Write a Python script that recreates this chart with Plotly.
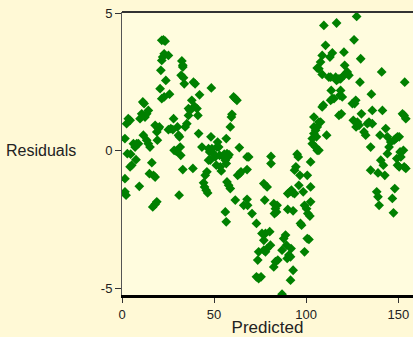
import plotly.graph_objects as go

predicted = [1.6, 1.6, 1.6, 2.2, 2.5, 3.4, 4.4, 2.9, 4.7, 5.3, 4.4, 6.2, 7.1, 8.0, 8.9, 7.6, 9.4, 9.8, 10.7, 11.3,
             12.0, 11.6, 12.5, 13.4, 14.3, 13.4, 14.3, 15.2, 14.9, 16.2, 17.1, 18.0, 16.7, 18.0, 18.9, 18.0, 18.9, 19.2, 19.8, 20.3,
             20.7, 21.1, 21.6, 22.1, 21.6, 22.5, 23.4, 22.9, 25.2, 23.8, 21.6, 22.9, 25.8, 25.2, 26.5, 27.6, 28.0, 28.3, 29.4, 30.1,
             30.7, 31.2, 31.6, 31.0, 31.9, 32.5, 33.0, 33.0, 32.1, 33.4, 33.8, 33.0, 34.3, 35.2, 36.1, 36.1, 37.0, 37.9, 38.5, 38.8,
             39.7, 39.4, 40.7, 41.2, 42.1, 41.6, 43.4, 44.3, 44.8, 45.7, 46.5, 45.2, 46.1, 47.0, 47.6, 48.3, 48.5, 47.0, 47.9, 48.8,
             49.7, 50.6, 51.5, 51.9, 52.5, 53.0, 53.4, 53.9, 51.2, 55.2, 55.5, 56.1, 56.6, 57.0, 57.5, 58.1, 56.6, 56.1, 56.6, 57.0,
             57.9, 58.8, 58.8, 59.4, 59.7, 60.6, 61.5, 62.4, 61.5, 62.8, 63.9, 64.6, 63.7, 66.1, 67.9, 68.2, 67.9, 68.8, 67.9, 70.6,
             73.0, 73.7, 74.2, 73.0, 74.2, 75.5, 76.0, 77.0, 77.9, 77.0, 77.9, 78.8, 80.2, 80.6, 77.5, 77.0, 78.8, 80.9, 80.9, 82.4,
             83.3, 82.8, 83.9, 84.2, 82.4, 83.3, 84.6, 86.9, 86.9, 87.8, 88.8, 89.3, 89.7, 90.6, 91.5, 91.8, 92.9, 91.5, 90.0, 90.0,
             91.1, 92.0, 92.9, 93.7, 92.9, 93.7, 94.4, 95.1, 95.7, 96.6, 96.0, 96.9, 97.5, 98.4, 99.1, 100.2, 100.9, 100.6, 101.5, 99.1,
             102.0, 102.4, 102.4, 102.4, 100.6, 103.3, 103.3, 104.2, 104.2, 105.1, 105.6, 105.1, 106.0, 106.9, 104.2, 106.0, 106.9, 107.8, 108.7, 109.3,
             109.6, 110.5, 108.7, 107.8, 106.9, 106.0, 108.7, 111.1, 112.3, 113.3, 113.6, 114.2, 112.9, 113.3, 114.2, 115.1, 116.0, 116.5, 116.5, 117.8,
             118.7, 117.8, 118.3, 118.7, 119.1, 119.6, 120.5, 120.9, 120.5, 121.6, 122.3, 123.2, 125.1, 125.6, 126.0, 126.3, 126.9, 127.1, 127.4, 127.8,
             128.7, 129.6, 130.0, 129.2, 131.4, 132.3, 133.2, 134.1, 135.4, 135.9, 135.0, 135.0, 135.9, 139.0, 138.3, 139.0, 139.6, 140.5, 141.0, 141.4,
             140.1, 141.9, 142.7, 143.2, 144.1, 144.1, 145.0, 145.9, 146.8, 147.4, 148.1, 147.7, 148.6, 149.6, 150.5, 151.0, 151.4, 149.2, 149.6, 150.5,
             152.3, 153.2, 154.1, 153.5, 154.1, 153.2, 152.8]

residuals = [0.44, -1.02, -1.50, -1.62, 0.98, 1.16, 1.10, -0.11, -0.13, -0.53, -0.59, 0.25, 0.13, 0.25, 0.25, -0.33, -1.30, 1.16, 1.34, 1.77,
             1.71, 0.56, 1.22, 1.34, 1.46, 0.38, 0.25, 0.13, -0.84, -0.44, -0.90, -0.96, -2.05, -1.95, -1.86, 0.92, 0.68, 0.38, 0.80, 0.86,
             2.25, 2.92, 3.28, 3.40, 4.01, 4.03, 3.98, 3.52, 3.46, 2.55, 1.89, 1.95, 2.05, 0.76, 0.80, 0.76, 1.16, 0.01, -0.02, 0.86,
             0.56, 0.50, 0.13, -1.62, -0.17, 3.26, 3.10, 3.04, 2.74, 2.65, 2.43, -0.69, 0.86, 0.98, 1.28, 1.53, 1.46, 1.83, -0.65, 2.49,
             2.43, 1.61, 1.53, 1.28, 2.03, 0.62, 0.13, -1.17, -1.32, -1.44, -1.54, -0.90, -0.77, 0.07, -0.05, 0.50, 2.28, -0.35, -0.35, 0.07,
             -0.11, -0.23, 0.13, 0.31, 0.13, -0.17, -0.59, -0.74, -0.53, -0.23, -0.13, -0.35, -0.47, -0.11, -0.23, -0.15, 0.44, -2.23, -2.59, -1.14,
             -1.26, -1.38, 0.86, 1.22, 1.32, 1.95, 1.89, 1.83, -1.80, -0.90, -0.84, -0.77, 0.11, -1.99, -1.77, -1.99, -0.69, -0.23, -0.23, -2.29,
             -2.65, -3.98, -3.68, -4.59, -4.65, -4.59, -3.01, -3.26, -3.01, -3.62, -3.68, -3.56, -2.95, -3.44, -1.80, -1.20, -1.32, -0.21, -0.47, -1.93,
             -2.11, -2.29, -2.23, -1.99, -4.23, -4.04, -3.98, -5.22, -3.62, -3.20, -3.07, -3.44, -3.92, -3.80, -3.86, -3.56, -4.35, -4.71, -2.14, -1.56,
             -1.50, -1.44, -1.54, -1.56, -2.19, -0.71, -0.59, -0.13, -0.23, -0.90, -1.26, -2.65, -2.71, -1.50, -1.99, -2.11, -2.29, -3.20, -3.23, -3.68,
             -2.38, -1.32, -1.86, -0.41, -0.90, 0.25, 0.44, 0.62, 0.86, 0.74, 0.50, 0.13, 0.86, 1.04, 1.22, 0.01, 0.01, 1.04, 1.59, 1.65,
             4.55, 3.83, 3.46, 3.22, 2.98, 3.00, 2.77, 0.56, 2.67, 2.67, 2.19, 3.55, 3.40, 1.83, 1.89, 1.89, 2.67, 2.55, 4.64, 2.61,
             2.61, 1.28, 2.01, 2.19, 1.34, 1.95, 3.58, 3.10, 2.74, 2.80, 2.86, 2.74, 1.71, 1.10, 4.03, 1.71, 1.83, 0.86, 4.88, 1.04,
             0.92, 3.34, 1.34, 2.49, 0.68, 0.56, 0.98, 1.04, 2.05, 1.46, 0.13, -0.71, 0.98, -0.81, -1.50, -1.68, -1.99, -0.35, 2.86, 1.46,
             0.56, -0.53, -0.90, 0.80, 0.50, -0.11, 0.13, 0.31, -1.74, -2.26, -1.38, 0.38, 0.44, 0.50, 0.50, -0.05, -0.23, -0.29, -0.53, -0.59,
             1.34, 1.28, 1.16, 2.49, -0.65, -0.59, 0.01]

x_ticks = [0, 50, 100, 150]
y_ticks = [-5, 0, 5]

fig = go.Figure()
fig.add_trace(go.Scatter(
    x=predicted, y=residuals, mode="markers",
    marker=dict(symbol="diamond", size=7.5, color="#008000", line=dict(width=0)),
    hoverinfo="skip", showlegend=False,
))

font_family = "Liberation Sans, Arial, sans-serif"

fig.update_layout(
    width=413, height=337,
    margin=dict(l=122, r=0, t=12, b=42),
    paper_bgcolor="#FFF9D6",
    plot_bgcolor="#FFFCDE",
    font=dict(family=font_family, size=13, color="#222222"),
    xaxis=dict(
        range=[0, 158], tickvals=x_ticks, ticktext=[str(v) for v in x_ticks],
        showgrid=False, zeroline=False, showline=True, linecolor="#000000", linewidth=3,
        ticks="outside", ticklen=5, tickcolor="#333333", tickwidth=1,
        tickfont=dict(size=13, color="#222222"),
        title=dict(text="Predicted", font=dict(size=17, color="#222222"), standoff=0),
    ),
    yaxis=dict(
        range=[-5.25, 5.04], tickvals=y_ticks, ticktext=[str(v) for v in y_ticks],
        showgrid=False, zeroline=False, showline=True, linecolor="#555555", linewidth=1,
        ticks="outside", ticklen=6, tickcolor="#333333", tickwidth=1,
        tickfont=dict(size=13, color="#222222"),
    ),
    shapes=[dict(type="line", xref="paper", yref="paper", x0=0, x1=1, y0=1, y1=1,
                 line=dict(color="#333333", width=2))],
    annotations=[dict(text="Residuals", xref="paper", yref="y", x=-0.405, y=0,
                      xanchor="left", yanchor="middle", showarrow=False,
                      font=dict(size=16, color="#222222"))],
)

fig.write_html(
    "out.html",
    config={"displayModeBar": False},
    post_script="document.body.style.margin='0';document.body.style.overflow='hidden';",
)
